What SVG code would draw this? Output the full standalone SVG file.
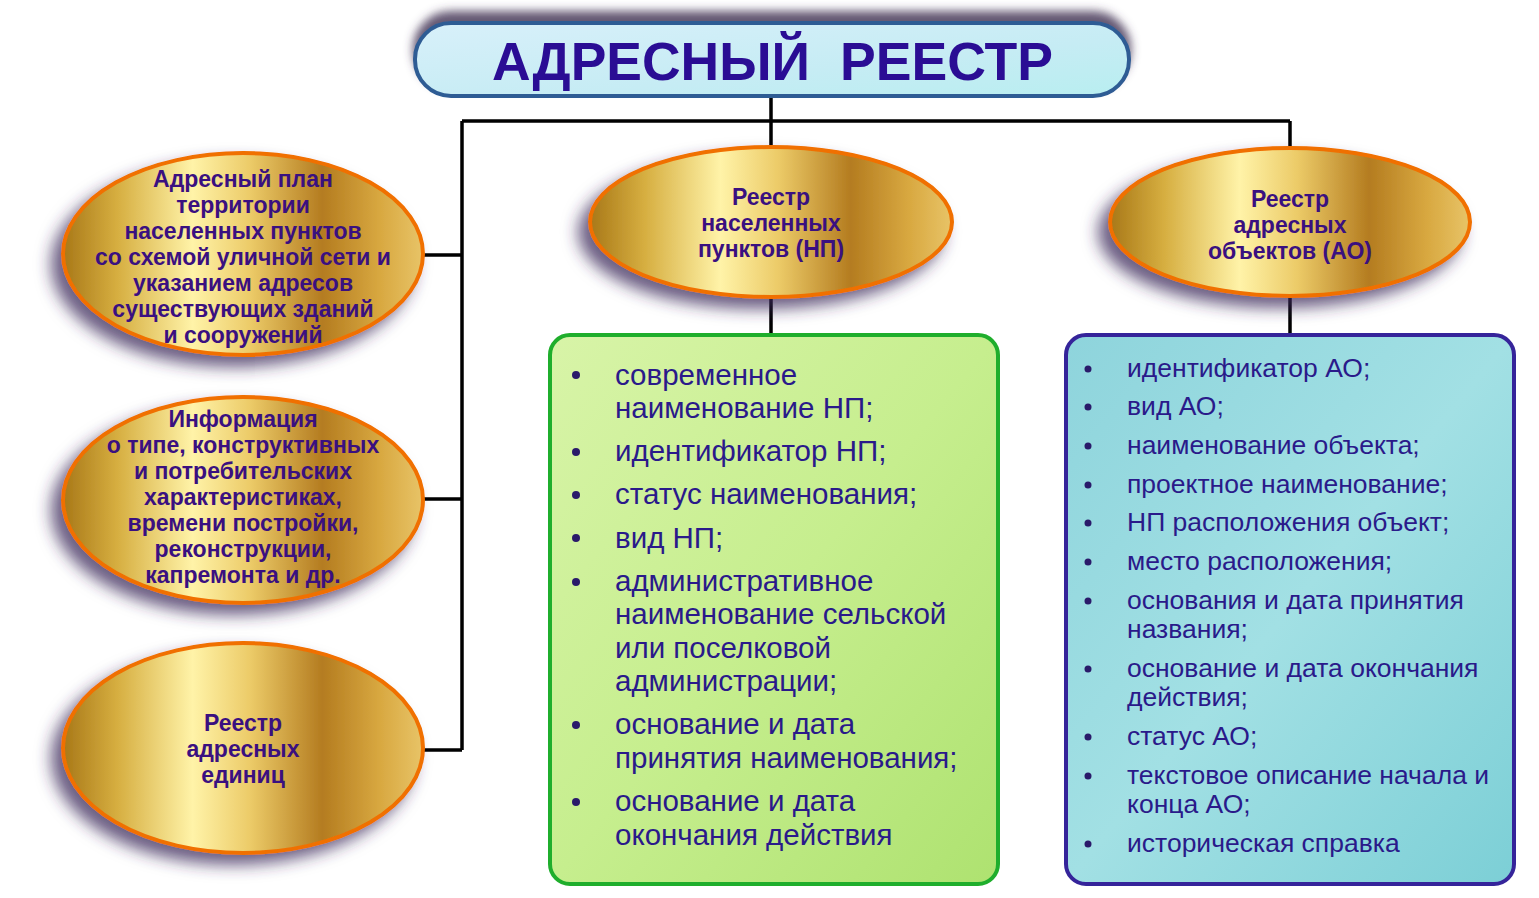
<svg xmlns="http://www.w3.org/2000/svg" width="1539" height="898" viewBox="0 0 1539 898">
<defs>
<linearGradient id="gold" x1="0" y1="0" x2="1" y2="0">
<stop offset="0" stop-color="#a87818"/>
<stop offset="0.15" stop-color="#d6ae40"/>
<stop offset="0.36" stop-color="#fff3a8"/>
<stop offset="0.52" stop-color="#eccb68"/>
<stop offset="0.72" stop-color="#b47c20"/>
<stop offset="0.88" stop-color="#d8a840"/>
<stop offset="1" stop-color="#e8c468"/>
</linearGradient>
<linearGradient id="green" x1="0" y1="0" x2="1" y2="1">
<stop offset="0" stop-color="#d8f4a8"/>
<stop offset="0.5" stop-color="#c6ee8e"/>
<stop offset="1" stop-color="#aee270"/>
</linearGradient>
<linearGradient id="cyan" x1="0" y1="0" x2="1" y2="1">
<stop offset="0" stop-color="#8ed4dc"/>
<stop offset="0.5" stop-color="#a2e0e4"/>
<stop offset="1" stop-color="#7ccfd6"/>
</linearGradient>
<linearGradient id="titleFill" x1="0" y1="0" x2="1" y2="1">
<stop offset="0" stop-color="#d8f0fa"/>
<stop offset="0.6" stop-color="#c6ecf4"/>
<stop offset="1" stop-color="#b8eef0"/>
</linearGradient>
<filter id="ellShadow" x="-20%" y="-20%" width="140%" height="150%">
<feDropShadow dx="-10" dy="10" stdDeviation="8" flood-color="#3a2a5a" flood-opacity="0.75"/>
</filter>
<filter id="titleShadow" x="-10%" y="-50%" width="120%" height="200%">
<feDropShadow dx="0" dy="-10" stdDeviation="5" flood-color="#4a3a5a" flood-opacity="0.85"/>
</filter>
</defs>
<style>
.ell{fill:url(#gold);stroke:#f07000;stroke-width:4;filter:url(#ellShadow)}
.et{font-family:"Liberation Sans",Arial,sans-serif;font-weight:bold;font-size:23px;fill:#3a1080;text-anchor:middle}
.conn{stroke:#000;stroke-width:3.5;fill:none}
.gt{font-family:"Liberation Sans",Arial,sans-serif;font-size:29.5px;fill:#2a1a8a}
.bt{font-family:"Liberation Sans",Arial,sans-serif;font-size:26.5px;fill:#2a1a8a}
.bul{fill:#2a1a6a}
</style>
<rect width="1539" height="898" fill="#ffffff"/>

<g id="connectors">
<path class="conn" d="M771 96 V121 M462 121 H1290 M771 121 V150 M1290 121 V150 M462 121 V750 M422 255 H462 M422 499 H462 M422 750 H462 M771 296 V336 M1290 296 V336"/>
</g>

<g id="title">
<rect x="415" y="23" width="714" height="73" rx="36" fill="url(#titleFill)" stroke="#2f5c94" stroke-width="4" filter="url(#titleShadow)"/>
<text y="80" font-family="Liberation Sans,Arial,sans-serif" font-weight="bold" font-size="54" fill="#2a0d94"><tspan x="492" textLength="318" lengthAdjust="spacingAndGlyphs">АДРЕСНЫЙ</tspan> <tspan x="840" textLength="213" lengthAdjust="spacingAndGlyphs">РЕЕСТР</tspan></text>
</g>

<g id="node-plan">
<ellipse class="ell" cx="243" cy="254" rx="180" ry="101"/>
<text class="et"><tspan x="243" y="187">Адресный план</tspan><tspan x="243" y="213">территории</tspan><tspan x="243" y="239">населенных пунктов</tspan><tspan x="243" y="265">со схемой уличной сети и</tspan><tspan x="243" y="291">указанием адресов</tspan><tspan x="243" y="317">существующих зданий</tspan><tspan x="243" y="343">и сооружений</tspan></text>
</g>

<g id="node-info">
<ellipse class="ell" cx="243" cy="500" rx="180" ry="103"/>
<text class="et"><tspan x="243" y="427">Информация</tspan><tspan x="243" y="453">о типе, конструктивных</tspan><tspan x="243" y="479">и потребительских</tspan><tspan x="243" y="505">характеристиках,</tspan><tspan x="243" y="531">времени постройки,</tspan><tspan x="243" y="557">реконструкции,</tspan><tspan x="243" y="583">капремонта и др.</tspan></text>
</g>

<g id="node-units">
<ellipse class="ell" cx="243" cy="748" rx="180" ry="105"/>
<text class="et"><tspan x="243" y="731">Реестр</tspan><tspan x="243" y="757">адресных</tspan><tspan x="243" y="783">единиц</tspan></text>
</g>

<g id="node-np">
<ellipse class="ell" cx="771" cy="222" rx="181" ry="75"/>
<text class="et"><tspan x="771" y="205">Реестр</tspan><tspan x="771" y="231">населенных</tspan><tspan x="771" y="257">пунктов (НП)</tspan></text>
</g>

<g id="node-ao">
<ellipse class="ell" cx="1290" cy="222" rx="180" ry="74"/>
<text class="et"><tspan x="1290" y="207">Реестр</tspan><tspan x="1290" y="233">адресных</tspan><tspan x="1290" y="259">объектов (АО)</tspan></text>
</g>

<g id="list-np">
<rect x="550" y="335" width="448" height="549" rx="20" fill="url(#green)" stroke="#1fae2c" stroke-width="4"/>
<g class="bul">
<circle cx="576" cy="375" r="4"/><circle cx="576" cy="452" r="4"/><circle cx="576" cy="495" r="4"/><circle cx="576" cy="538" r="4"/><circle cx="576" cy="582" r="4"/><circle cx="576" cy="725" r="4"/><circle cx="576" cy="802" r="4"/>
</g>
<text class="gt"><tspan x="615" y="385">современное</tspan><tspan x="615" y="418">наименование НП;</tspan><tspan x="615" y="461">идентификатор НП;</tspan><tspan x="615" y="504">статус наименования;</tspan><tspan x="615" y="548">вид НП;</tspan><tspan x="615" y="591">административное</tspan><tspan x="615" y="624">наименование сельской</tspan><tspan x="615" y="658">или поселковой</tspan><tspan x="615" y="691">администрации;</tspan><tspan x="615" y="734">основание и дата</tspan><tspan x="615" y="768">принятия наименования;</tspan><tspan x="615" y="811">основание и дата</tspan><tspan x="615" y="845">окончания действия</tspan></text>
</g>

<g id="list-ao">
<rect x="1066" y="335" width="448" height="549" rx="20" fill="url(#cyan)" stroke="#35249a" stroke-width="4"/>
<g class="bul">
<circle cx="1088" cy="369" r="3.5"/><circle cx="1088" cy="407" r="3.5"/><circle cx="1088" cy="446" r="3.5"/><circle cx="1088" cy="485" r="3.5"/><circle cx="1088" cy="523" r="3.5"/><circle cx="1088" cy="562" r="3.5"/><circle cx="1088" cy="601" r="3.5"/><circle cx="1088" cy="669" r="3.5"/><circle cx="1088" cy="737" r="3.5"/><circle cx="1088" cy="776" r="3.5"/><circle cx="1088" cy="844" r="3.5"/>
</g>
<text class="bt"><tspan x="1127" y="377">идентификатор АО;</tspan><tspan x="1127" y="415">вид АО;</tspan><tspan x="1127" y="454">наименование объекта;</tspan><tspan x="1127" y="493">проектное наименование;</tspan><tspan x="1127" y="531">НП расположения объект;</tspan><tspan x="1127" y="570">место расположения;</tspan><tspan x="1127" y="609">основания и дата принятия</tspan><tspan x="1127" y="638">названия;</tspan><tspan x="1127" y="677">основание и дата окончания</tspan><tspan x="1127" y="706">действия;</tspan><tspan x="1127" y="745">статус АО;</tspan><tspan x="1127" y="784">текстовое описание начала и</tspan><tspan x="1127" y="813">конца АО;</tspan><tspan x="1127" y="852">историческая справка</tspan></text>
</g>
</svg>
